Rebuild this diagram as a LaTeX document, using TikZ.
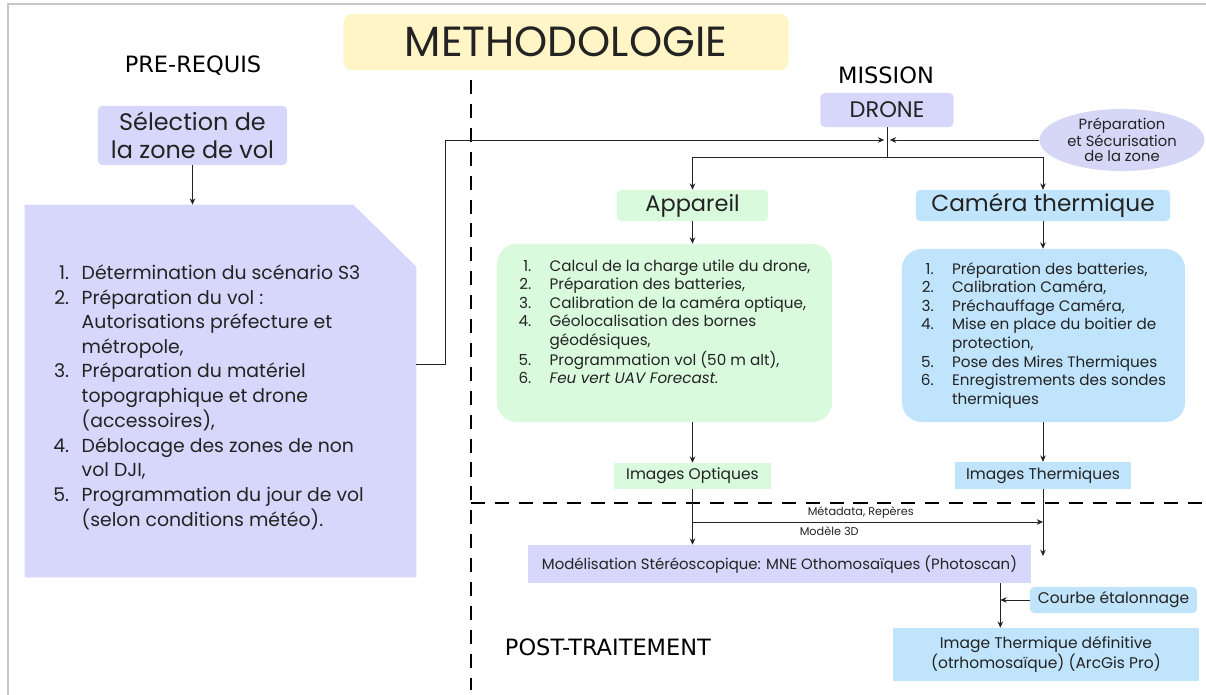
\documentclass[tikz,border=0pt]{standalone}
\usepackage{fontspec}
\setmainfont{Poppins}
\newfontfamily\headfont{DejaVu Sans}
\usepackage{tikz}
\usetikzlibrary{shapes,arrows.meta,positioning,calc}
\definecolor{ink}{RGB}{35,35,35}
\definecolor{lavBox}{RGB}{215,215,252}
\definecolor{lavEll}{RGB}{214,214,246}
\definecolor{greenBox}{RGB}{218,250,222}
\definecolor{blueBox}{RGB}{192,228,252}
\definecolor{titleYellow}{RGB}{255,245,198}

\begin{document}
\begin{tikzpicture}[x=0.025cm,y=-0.025cm,
        tag/.style={fill=#1, rounded corners=3pt, align=center, inner sep=0pt, text=ink},
        listbox/.style={fill=#1, rounded corners=14pt, inner sep=0pt, text=ink},
        head/.style={font=\headfont\fontsize{16}{18}\selectfont, text=black},
        flow/.style={-{Stealth[length=4.5pt,width=4pt]}, line width=0.6pt, ink},
        link/.style={line width=0.6pt, ink},
        sep/.style={line width=2pt, dash pattern=on 10pt off 7pt, black},
        >=Stealth
      ]
        \useasboundingbox (0,0) rectangle (1206,695);
        \draw[gray!45, line width=1.5pt] (8,695) -- (8,4) -- (1206,4);

        % titre et separations
        \node[tag=titleYellow, rounded corners=6pt, minimum width=11.125cm, minimum height=1.4cm,
          font=\fontsize{30}{32}\selectfont] (title) at (566,42) {METHODOLOGIE};
        \draw[sep] (471,80) -- (471,690);
        \draw[sep] (471,503) -- (1206,503);

        \node[head] (prereq) at (193,66) {PRE-REQUIS};
        \node[head] (mission) at (886,75) {MISSION};
        \node[head, anchor=west] (post) at (500,647) {POST-TRAITEMENT};

        % pre-requis
        \node[tag=lavBox, minimum width=4.725cm, minimum height=1.475cm,
          font=\fontsize{17}{20}\selectfont] (zone) at (192.5,135.5) {Sélection de\\la zone de vol};
        \node[minimum width=9.775cm, minimum height=9.3cm, inner sep=0pt] (reqbox) at (220.5,391) {};
        \fill[lavBox] (reqbox.south west) -- (reqbox.north west) -- ([xshift=-1.575cm]reqbox.north east)
          -- ([yshift=-1.55cm]reqbox.north east) -- (reqbox.south east) -- cycle;
        \node[anchor=west, inner sep=0pt, text=ink, font=\fontsize{13.4}{17.5}\selectfont] (reqtext) at (53,398)
          {\begin{tabular}{@{}r@{\hspace{9pt}}l@{}}
            1. & Détermination du scénario S3\\
            2. & Préparation du vol :\\
               & Autorisations préfecture et\\
               & métropole,\\
            3. & Préparation du matériel\\
               & topographique et drone\\
               & (accessoires),\\
            4. & Déblocage des zones de non\\
               & vol DJI,\\
            5. & Programmation du jour de vol\\
               & (selon conditions météo).
          \end{tabular}};
        \draw[flow] (zone) -- (reqbox.north -| zone);

        % mission drone
        \node[tag=lavBox, minimum width=3.325cm, minimum height=0.85cm,
          font=\fontsize{16}{18}\selectfont] (drone) at (887,110) {DRONE};
        \node[ellipse, fill=lavEll, minimum width=4.125cm, minimum height=1.55cm, inner sep=0pt, align=center,
          text=ink, font=\fontsize{10.5}{10.5}\selectfont] (securite) at (1122,140) {Préparation\\et Sécurisation\\de la zone};
        \coordinate (meet) at (887,140);
        \coordinate (split) at (887,157);
        \draw[flow, shorten >=2pt] ([yshift=0.675cm]reqbox.east) -- ++(29,0) |- (meet);
        \draw[flow, shorten >=2pt] (securite) -- (meet);
        \draw[link] (drone) -- (split);

        \node[tag=greenBox, minimum width=3.775cm, minimum height=0.775cm,
          font=\fontsize{16}{18}\selectfont] (appareil) at (692.5,205.5) {Appareil};
        \node[tag=blueBox, minimum width=6.35cm, minimum height=0.775cm,
          font=\fontsize{16.5}{18}\selectfont] (camera) at (1043,205.5) {Caméra thermique};
        \draw[flow] (split) -| (appareil);
        \draw[flow] (split) -| (camera);

        \node[listbox=greenBox, minimum width=8.375cm, minimum height=4.45cm,
          font=\fontsize{10.8}{13.2}\selectfont] (optlist) at (664.5,333)
          {\begin{tabular}{@{}r@{\hspace{13pt}}l@{}}
            1. & Calcul de la charge utile du drone,\\
            2. & Préparation des batteries,\\
            3. & Calibration de la caméra optique,\\
            4. & Géolocalisation des bornes\\
               & géodésiques,\\
            5. & Programmation vol (50 m alt),\\
            6. & \itshape Feu vert UAV Forecast.\\
               &
          \end{tabular}};
        \node[listbox=blueBox, minimum width=7.075cm, minimum height=4.325cm,
          font=\fontsize{10.8}{13.2}\selectfont] (thlist) at (1043.5,335.5)
          {\begin{tabular}{@{}r@{\hspace{13pt}}l@{}}
            1. & Préparation des batteries,\\
            2. & Calibration Caméra,\\
            3. & Préchauffage Caméra,\\
            4. & Mise en place du boitier de\\
               & protection,\\
            5. & Pose des Mires Thermiques\\
            6. & Enregistrements des sondes\\
               & thermiques
          \end{tabular}};
        \draw[flow] (appareil) -- (appareil |- optlist.north);
        \draw[flow] (camera) -- (camera |- thlist.north);

        \node[tag=greenBox, rounded corners=0pt, minimum width=3.9cm, minimum height=0.65cm,
          font=\fontsize{11}{13}\selectfont] (imgopt) at (692.5,476) {Images Optiques};
        \node[tag=blueBox, rounded corners=0pt, minimum width=4.375cm, minimum height=0.675cm,
          font=\fontsize{11}{13}\selectfont] (imgth) at (1043,475.5) {Images Thermiques};
        \draw[flow] (imgopt |- optlist.south) -- (imgopt);
        \draw[flow] (imgth |- thlist.south) -- (imgth);

        % post-traitement
        \node[tag=lavBox, rounded corners=0pt, minimum width=12.575cm, minimum height=0.95cm,
          font=\fontsize{10.6}{13}\selectfont] (model) at (779.5,564)
          {Modélisation Stéréoscopique: MNE Othomosaïques (Photoscan)};
        \draw[flow] (imgopt) -- (imgopt |- model.north);
        \draw[flow] (imgth) -- ([yshift=0.2cm]imgth |- model.center);
        \coordinate (meta) at (692.5,522);
        \draw[flow] (meta) -- node[pos=.48, above=2pt, inner sep=0pt, font=\fontsize{8}{9}\selectfont, text=ink] {Métadata, Repères}
          node[pos=.39, below=3pt, inner sep=0pt, font=\fontsize{8}{9}\selectfont, text=ink] {Modèle 3D} (meta -| imgth);

        \node[tag=blueBox, minimum width=4.175cm, minimum height=0.65cm,
          font=\fontsize{11}{13}\selectfont] (courbe) at (1113.5,600) {Courbe étalonnage};
        \node[tag=blueBox, rounded corners=0pt, minimum width=7.65cm, minimum height=1.325cm,
          font=\fontsize{11}{14}\selectfont] (imgdef) at (1046,654.5)
          {Image Thermique définitive\\(otrhomosaïque) (ArcGis Pro)};
        \draw[flow] ([xshift=-0.775cm]model.south east) coordinate (drop) -- (drop |- imgdef.north);
        \draw[flow] (courbe) -- (courbe -| drop);
      \end{tikzpicture}
\end{document}
